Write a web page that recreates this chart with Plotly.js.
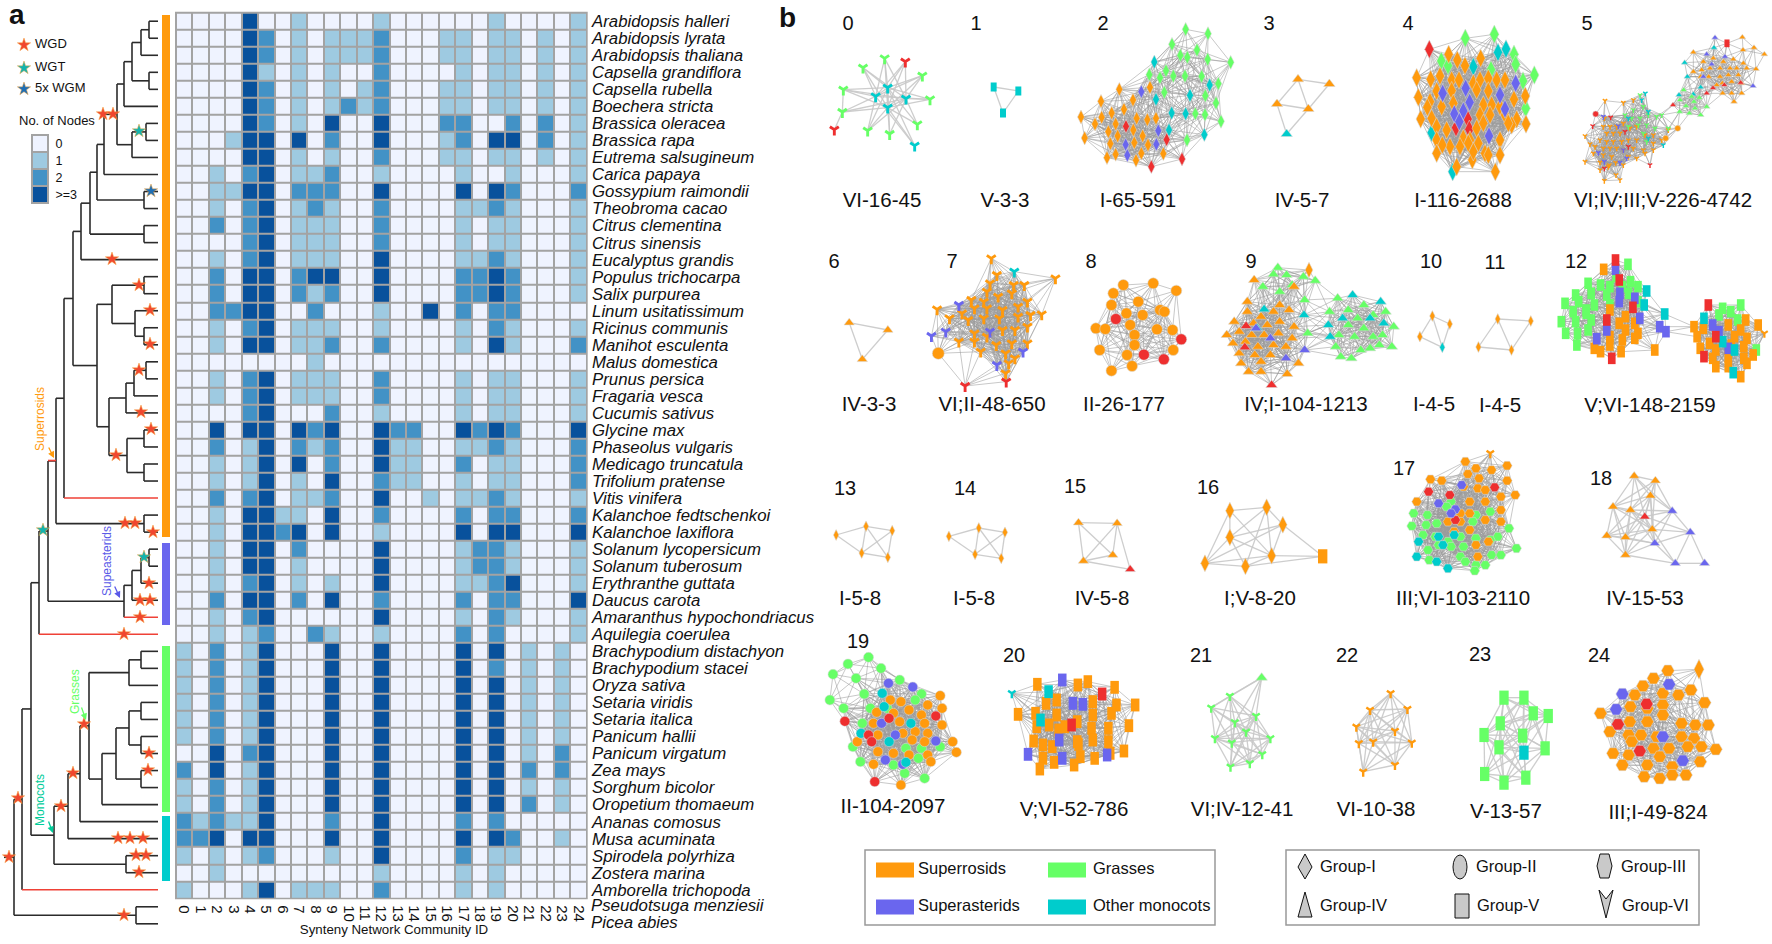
<!DOCTYPE html>
<html>
<head>
<meta charset="utf-8">
<script src="https://cdn.plot.ly/plotly-3.0.1.min.js"></script>
<style>html,body{margin:0;padding:0;background:#fff}</style>
</head>
<body>
<div id="plot" style="width:1772px;height:944px"></div>
<script>
// panel a - heatmap data
const species = ["Arabidopsis halleri","Arabidopsis lyrata","Arabidopsis thaliana","Capsella grandiflora","Capsella rubella","Boechera stricta","Brassica oleracea","Brassica rapa","Eutrema salsugineum","Carica papaya","Gossypium raimondii","Theobroma cacao","Citrus clementina","Citrus sinensis","Eucalyptus grandis","Populus trichocarpa","Salix purpurea","Linum usitatissimum","Ricinus communis","Manihot esculenta","Malus domestica","Prunus persica","Fragaria vesca","Cucumis sativus","Glycine max","Phaseolus vulgaris","Medicago truncatula","Trifolium pratense","Vitis vinifera","Kalanchoe fedtschenkoi","Kalanchoe laxiflora","Solanum lycopersicum","Solanum tuberosum","Erythranthe guttata","Daucus carota","Amaranthus hypochondriacus","Aquilegia coerulea","Brachypodium distachyon","Brachypodium stacei","Oryza sativa","Setaria viridis","Setaria italica","Panicum hallii","Panicum virgatum","Zea mays","Sorghum bicolor","Oropetium thomaeum","Ananas comosus","Musa acuminata","Spirodela polyrhiza","Zostera marina","Amborella trichopoda"];
const noCellSpecies = ["Pseudotsuga menziesii","Picea abies"];
const communities = ["0","1","2","3","4","5","6","7","8","9","10","11","12","13","14","15","16","17","18","19","20","21","22","23","24"];
// one string per species, one digit per community
const nodeRows = [
"0000300100001000000100001","0000320101112000110110101","0000320101112000110110101","0000310101002000010110101",
"0000320101012000110110101","0000320101212000110110101","0000320103003000220020201","0001330302003000120330201",
"0000330101002000110110101","0010230112001000010010001","0011330222003000030320002","0010230121002000011210001",
"0020230111002000010110001","0000230111002000010110001","0010230111003000011210001","0020330233003000022320001",
"0020330212003000022320001","0022330020001003020220000","0010230111001000010210001","0010330112002000010310002",
"0000000010000000000000000","0010230111002000010110001","0010230111002000010110001","0000230002001000010110001",
"0030330323003220032320003","0020130212003110011210002","0010130302003110020110002","0010130103002110010110002",
"0020230112003001011210001","0010331103002000020220002","0010332303001000030330003","0010330200003000012210001",
"0010330100003000012210001","0010230101003000011230001","0020330203002000020220003","0010230000003000010210001",
"0010120021001000020200001","1020130003003000030301010","1020130003003000030201010","1020130003003000030301010",
"1020130003003000030301010","1020130003003000030301010","1020130003003000030301010","0030230003003000030301020",
"2030130003003000030302020","1020130003003000030301010","1020130003003000030302010","2121130002003000020200000",
"2230330003003000030320010","1010120001003000020110000","0010000000001000010100000","1000130111002000010100000"];
const nodeCounts = nodeRows.map(r => r.split("").map(Number));
const legendLabels = ["0","1","2",">=3"];
const legendLevels = [[0],[1],[2],[3]];

// phylogeny, each inner node is [x position, child, child], a leaf is its row number
const arabTree = [141,[149,0,1],2];
const brasTree = [132,[146,6,7],8];
const crucifers = [117,[124,[132,arabTree,[149,3,4]],5],brasTree];
const malvids = [81,[90,[97,[104,crucifers,9],[144,10,11]],[144,12,13]],14];
const fabids = [97,[112,[144,15,16],[135,17,[144,18,19]]],[109,[126,[134,[146,20,21],22],23],[127,[144,24,25],[144,26,27]]]];
const superrosids = [56,[64,[73,malvids,fabids],28],[144,29,30]];
const superasterids = [124,[132,[141,[149,31,32],33],34],35];
const grasses = [89,[129,[141,37,38],39],[102,[116,[129,[141,40,41],[141,42,43]],[141,44,45]],46]];
const monocots = [54,[68,[80,grasses,47],48],[126,49,50]];
const treeRoot = [14,[22,[31,[39,[48,superrosids,superasterids],36],monocots],51],[136,52,53]];
const redRows = [28,35,36,51];

const wgdX = [24,103,113,112,139,150,150,139,141,151,116,125,135,153,149,140,150,140,124,18,9,84,73,61,118,130,143,136,146,139,148,149,124];
const wgdY = [45,114,114,259,285,310,344,370,412,429,455,523,523,532,583,600,600,617,634,798,857,724,773,806,838,838,838,855,855,872,770,753,915];
const wgtX = [24,139,43,144];
const wgtY = [68,131,530,557];
const wgmX = [24,151];
const wgmY = [89,191];

const crops = {a:[780,0,1/3,1/3], b:[1270,0,1/3,1/3], c:[800,230,.623,1/3], d:[800,450,.623,1/3], e:[800,625,.623,1/3]};
const net0 = [["VI","G",[249,203,314,175,427,227,190,269,450,298,187,336,412,373,263,392,329,402]],["VI","R",[376,185,163,389]],["VI","T",[323,263,287,289,378,296,323,323,404,437]]];
const net1 = [["V","T",[641,261,715,273,669,339]]];
const net2 = [["I","G",[1217,88,1284,101,1176,133,1201,166,1222,172,1251,150,1283,178,1352,187,1108,224,1140,233,1158,212,1180,228,1215,228,1265,229,1315,251,1153,277,1276,287,1308,309,1246,341,1275,344,1323,364,1221,420]],
 ["I","T",[1123,186,1289,255,1128,298,1230,286,1175,339,1217,341,1167,390,1273,404]],
 ["I","O",[1018,268,1110,262,963,304,1032,328,1059,300,903,351,965,352,995,339,945,372,1070,355,1102,359,1128,355,1007,372,985,395,1013,408,1060,390,1088,408,914,414,991,431,1063,428,1104,435,1007,463,981,473,1084,460,1068,481,1150,461]],
 ["I","P",[1084,275,1135,392,1037,434,1129,433,1042,466]],["I","R",[1038,379,1160,419,1206,477,1114,500]]];
const net3 = [["IV","O",[84,238,178,252,21,312,115,327]],["IV","T",[50,402]]];
const net4 = [["I","G",[586,115,673,103,732,163,514,183,534,197,737,193,663,209,793,225,759,243,767,325]],
 ["I","T",[684,157,708,147,610,200,485,398,548,515]],["I","R",[478,148,593,357,558,383,598,388]],
 ["I","O",[536,163,562,180,585,197,632,175,440,233,482,238,510,228,545,240,567,240,610,250,630,240,655,235,680,240,705,240,500,273,545,272,655,273,620,270,766,288,445,292,480,305,515,320,550,310,640,315,665,315,732,298,690,320,472,322,452,357,485,355,630,345,660,345,705,345,740,358,768,372,725,375,500,380,530,390,620,385,640,370,580,415,600,420,500,420,540,440,517,435,570,440,595,430,625,430,690,420,645,460,655,465,500,460,690,465,607,480,560,500,676,515,610,455,715,370]],
 ["I","P",[737,250,587,265,518,280,690,285,599,307,580,333,705,327,553,342,568,365,657,408]]];
const net5 = [["IV","O",[1270,157,1417,112,1419,150,1452,143,1483,163,1300,185,1330,175,1360,185,1390,178,1420,190,1295,210,1320,205,1350,205,1380,205,1400,205,1458,207,1430,205,1270,215,1292,230,1316,230,1350,230,1375,225,1405,225,1357,250,1385,245,1340,255,1415,250,1358,280,1392,305,1415,280,1385,280]],
 ["IV","P",[1335,113,1310,163,1365,170,1325,193,1449,258,1300,230]],["IV","T",[1332,143,1244,188,1252,230,1292,262,1227,285,1270,283]],["IV","R",[1329,264,1363,255,1412,248,1310,280,1209,315]],
 ["V","R",[1371,130]],
 ["IV","G",[1241,270,1265,290,1230,300,1248,318,1272,305,1288,293,1310,320,1229,335,1258,340,1292,345,1275,325]],
 ["VI","O",[1005,302,1060,308,1090,300,945,408,1003,355,975,440,970,460,960,432,1000,380,1020,380,1040,380,1060,370,1010,400,1030,400,1050,400,1080,385,1100,380,990,420,1010,425,1030,425,1055,425,1075,420,1100,420,1125,405,1150,405,1000,445,1020,445,1040,445,1060,450,1090,445,1120,450,1150,430,1000,465,1025,470,1075,470,1100,475,1125,460,945,485,990,487,1018,495,1037,488,1060,495,990,510,1015,500,1038,525,1003,542,1050,540,1195,390,1150,450,1175,420]],
 ["VI","G",[1110,285,1090,330,1120,320,1065,345,1085,355,1110,355,1135,345,1160,350,1175,345,1075,380,1105,375,1130,375,1155,385,1120,400,1130,425,1195,385]],
 ["VI","T",[1126,280,1115,300,1135,335,1075,355,1180,435,1135,415]],["VI","P",[1000,350,1045,378,985,458,1003,485,1050,488,1070,475,1060,450]],["VI","R",[1022,352,968,378,1003,505,1140,495,1075,440,1065,395]],
 ["II","O",[1223,385,1187,415]],["II","R",[977,342]]];
const net6 = [["IV","O",[79,278,141,300,100,388]]];
const net7 = [["VI","O",[307,85,316,135,305,160,410,145,343,165,360,165,300,185,220,238,388,253,240,265,275,210,295,215,318,200,340,190,260,250,280,235,300,235,325,240,350,230,365,215,270,270,295,265,320,265,350,260,370,255,255,335,280,310,300,320,325,300,345,300,365,290,280,335,315,345,340,340,365,340,290,365,330,370,345,385,335,400,330,430]],
 ["VI","T",[344,125]],["VI","P",[255,225,211,318,234,305,305,305,316,405,358,365]],["VI","R",[265,468,331,455]],["II","O",[222,370]]];
const net8 = [["II","O",[519,165,567,160,604,182,503,190,543,215,500,225,578,240,524,250,550,255,585,245,530,285,475,295,490,297,573,298,598,300,537,315,537,345,481,360,599,360,525,375,500,422,533,408]],["II","R",[507,267,612,328,552,374,584,388]]];
const net9 = [["IV","G",[767,113,760,133,781,135,808,140,827,152,743,170,790,165,770,185,810,210,815,310,863,205,850,245,905,225,940,245,880,240,895,265,920,255,953,290,880,285,905,295,865,315,890,320,920,320,935,315,860,350,885,385,900,360,915,355,930,345,950,350,868,380]],
 ["I","O",[817,120]],
 ["IV","O",[729,150,793,170,718,215,770,225,697,275,718,245,740,260,760,245,785,240,728,280,750,285,770,275,793,290,685,315,705,305,725,315,745,315,768,310,790,325,695,340,715,335,735,350,760,345,780,350,705,370,730,375,755,375,780,385,800,400,708,400,740,395,720,425,740,425,782,432]],
 ["IV","T",[745,238,809,255,734,295,887,195,932,215,848,285,851,320,871,265,915,265,937,280]],["IV","P",[732,295,755,325,810,360,780,385]],["IV","R",[716,288,714,352,757,465]]];
const net10 = [["I","O",[1015,258,1043,282,995,320]],["I","T",[1031,352]]];
const net11 = [["I","O",[1120,267,1173,273,1089,351,1142,360]]];
const net12 = [["V","G",[1329,103,1310,140,1265,160,1285,165,1333,155,1345,170,1270,190,1295,195,1245,195,1228,220,1250,215,1275,225,1300,225,1241,245,1262,240,1222,275,1245,275,1270,270,1229,310,1248,310,1265,300,1247,345,1262,250,1330,190,1345,215,1300,170,1320,170,1481,235,1494,245,1510,225,1475,255,1505,270,1535,360]],
 ["V","O",[1290,118,1300,240,1325,260,1315,280,1340,280,1325,300,1345,310,1300,320,1320,330,1340,325,1275,355,1300,345,1318,365,1372,360,1285,365,1435,290,1518,270,1538,285,1450,295,1490,285,1510,300,1440,320,1460,340,1500,320,1520,325,1445,355,1470,360,1495,345,1515,350,1465,385,1490,380,1515,385,1530,375,1470,410,1490,410,1510,440,1520,400]],
 ["V","P",[1309,118,1316,190,1315,215,1340,205,1348,265,1295,300,1279,326,1380,290,1390,305,1465,285,1475,305,1490,355]],
 ["V","T",[1359,183,1355,225,1388,252,1451,265,1481,335,1498,428,1500,360]],["V","R",[1309,90,1315,150,1337,232,1295,270,1458,225,1303,385,1470,320,1451,380]],["VI","O",[1548,310]]];
const net13 = [["I","O",[58,255,106,229,148,242,99,309,141,322]]];
const net14 = [["I","O",[239,259,287,234,329,247,281,313,323,325]]];
const net15 = [["IV","O",[447,218,509,220,502,315,455,333]],["IV","R",[530,358]]];
const net16 = [["I","O",[690,182,749,172,775,224,690,262,757,317,650,340,715,349]],["V","O",[839,319]]];
const net17 = [["III","G",[985,190,1007,195,982,228,1005,225,1022,220,1045,155,1038,170,1085,195,1108,185,1000,255,1020,260,1080,215,1120,260,1060,260,1040,275,1085,265,1108,270,1150,295,1008,300,1025,285,1045,290,1065,290,1085,345,1010,330,1060,320,1110,315,1125,315,1068,335,1100,345,1083,362,1138,235]],
 ["III","O",[1068,35,1135,47,1085,55,1110,60,1012,88,1030,92,1072,72,1090,85,1135,92,1065,110,1088,115,1100,120,1148,135,990,155,1075,155,1100,155,1125,140,1060,190,1075,190,1125,180,1040,215,1060,215,1100,210,1125,215,1075,240,1050,245,1085,285,1105,275,1088,320]],
 ["VI","O",[1108,10]],["III","R",[1009,125,1043,135,1115,112,1052,210]],["III","P",[1062,105,1025,160,1052,178,1045,190]],["III","T",[993,275,1025,260,1032,285,990,320,1022,335,1040,355,1050,255]]];
const net18 = [["IV","O",[1339,78,1373,92,1365,137,1305,170,1333,180,1295,257,1325,262,1368,238,1325,315]],["IV","R",[1356,200]],["IV","P",[1400,183,1429,247,1372,280,1405,340,1452,340]]];
const net19 = [["II","G",[110,97,77,117,130,130,53,148,90,160,160,165,48,225,103,207,70,250,195,207,185,225,100,295,113,250,85,365,97,410,190,400,168,445,200,460,225,365,140,250,170,370,195,370,150,420]],
 ["II","O",[225,212,228,250,92,350,162,230,145,225,205,240,123,262,150,265,175,255,195,270,118,295,160,290,200,295,228,300,185,320,165,325,205,325,245,350,125,330,180,345,200,350,125,380,150,385,175,390,205,390,251,382,118,418,210,410,162,480]],
 ["II","P",[142,175,181,186,131,295,153,330,218,348,137,405,165,418]],["II","T",[132,205,135,245,178,295,98,325,143,350,170,412]],["II","R",[72,289,218,273,143,280,110,330,115,350,120,470]]];
const net20 = [["V","O",[381,178,446,180,462,170,505,187,350,268,538,240,528,302,520,378,412,225,508,240,470,230,395,235,500,265,378,265,412,270,470,270,445,290,380,305,400,300,415,315,468,310,495,310,445,350,375,348,470,345,495,350,390,360,405,365,447,358,498,385,390,400,473,400,385,432,408,412,440,420,450,395,425,305]],
 ["V","P",[421,165,438,235,454,238,416,345,366,388,421,400,493,390]],["V","T",[399,200,386,285]],["V","R",[485,207,436,300]],["VI","T",[340,205]]];
const net21 = [["VI","G",[690,213,660,248,732,273,698,292,716,320,666,340,693,353,755,340,742,388,722,415,691,425]],["IV","G",[741,158]]];
const net22 = [["VI","O",[948,205,915,255,975,252,893,305,955,318,897,355,982,353,920,350,955,420,904,440]]];
const net23 = [["V","G",[1130,218,1162,218,1177,265,1201,273,1124,295,1098,330,1160,332,1122,367,1196,370,1099,447,1165,458,1130,473]],["V","T",[1162,383]]];
const net24 = [["III","O",[1393,137,1370,160,1353,183,1410,210,1385,205,1430,195,1340,210,1333,245,1452,233,1285,265,1360,250,1385,240,1385,270,1360,290,1300,320,1332,290,1415,295,1437,300,1458,300,1330,330,1350,330,1375,335,1415,335,1435,340,1335,350,1370,370,1395,370,1425,365,1470,373,1447,365,1305,385,1330,390,1380,395,1320,420,1360,420,1400,425,1445,410,1355,455,1380,460,1422,450,1400,450]],
 ["I","O",[1443,133]],["III","P",[1395,178,1320,207,1310,253,1385,335,1417,407]],["III","R",[1359,237,1313,298,1348,378]]];

const allNets = [net0,net1,net2,net3,net4,net5,net6,net7,net8,net9,net10,net11,net12,net13,net14,net15,net16,net17,net18,net19,net20,net21,net22,net23,net24];
const netCrop = ["a","a","a","b","b","b","c","c","c","c","c","c","c","d","d","d","d","d","d","e","e","e","e","e","e"];
const netSize = [12,7,9,10,12,6,9,12,11,10,7,7,9,7,7,9,11,10,9,10,10,10,10,11,13];
// dense networks link nodes closer than netReach, sparse ones are listed in netEdges
const netReach = [0,0,46,0,48,22,0,50,50,40,0,0,36,0,0,0,0,44,52,44,50,60,70,62,50];
const lightNets = [0,1,3,6,10,11,13,14,15,16,18,21,22,23];
const netEdges = {
 0:[[0,11],[0,12],[0,14],[0,13],[1,11],[1,12],[1,14],[1,13],[2,11],[2,13],[2,14],[2,12],[3,12],[3,11],[3,14],[3,13],[3,5],[4,11],[4,12],[4,13],[4,14],[5,12],[5,13],[5,14],[5,10],[6,13],[6,14],[6,11],[7,11],[7,14],[7,12],[7,13],[8,11],[8,14],[8,13],[9,11],[9,12],[9,13],[9,14],[15,14],[15,12],[15,11],[11,12],[13,14],[11,14]],
 1:[[0,1],[1,2],[0,2]], 3:[[0,1],[0,2],[0,3],[1,3],[2,3],[2,4],[3,4]], 6:[[0,1],[1,2],[0,2]],
 10:[[0,1],[0,2],[0,3],[1,3],[2,3]], 11:[[0,1],[0,2],[0,3],[1,3],[2,3]],
 13:[[0,1],[1,2],[0,3],[1,3],[1,4],[2,3],[2,4],[3,4]], 14:[[0,1],[1,2],[0,3],[1,3],[1,4],[2,3],[2,4],[3,4]],
 15:[[0,1],[0,3],[0,2],[1,2],[1,3],[2,3],[3,4],[1,4]],
 16:[[0,1],[0,3],[0,5],[0,4],[1,2],[1,3],[1,4],[1,6],[2,3],[2,4],[2,5],[2,7],[3,5],[3,6],[3,4],[4,5],[4,6],[4,7],[5,6],[6,7]]
};
const netNumberX = [848,976,1103,1269,1408,1587,834,952,1091,1251,1431,1495,1576,845,965,1075,1208,1404,1601,858,1014,1201,1347,1480,1599];
const netNumberY = [25,25,25,25,25,25,263,263,263,263,263,264,263,490,490,488,489,470,480,643,657,657,657,656,657];
const netCaptions = ["VI-16-45","V-3-3","I-65-591","IV-5-7","I-116-2688","VI;IV;III;V-226-4742","IV-3-3","VI;II-48-650","II-26-177","IV;I-104-1213","I-4-5","I-4-5","V;VI-148-2159","I-5-8","I-5-8","IV-5-8","I;V-8-20","III;VI-103-2110","IV-15-53","II-104-2097","V;VI-52-786","VI;IV-12-41","VI-10-38","V-13-57","III;I-49-824"];
const captionX = [882,1005,1138,1302,1463,1663,869,992,1124,1306,1434,1500,1650,860,974,1102,1260,1463,1645,893,1074,1242,1376,1506,1658];
const captionY = [202,202,202,202,202,202,406,406,406,406,406,407,407,600,600,600,600,600,600,808,811,811,811,813,814];

const cladeColor = {O:"#ff9a0d", G:"#66ff66", P:"#6a66ee", T:"#00cccc", R:"#ee2f2f"};
const groupSymbol = {I:"diamond-tall", II:"circle", III:"hexagon2", IV:"triangle-up"};
const blues = ["#eff3ff","#9ecae1","#4292c6","#08519c"];
const stepScale = [[0,blues[0]],[1/6,blues[0]],[1/6,blues[1]],[.5,blues[1]],[.5,blues[2]],[5/6,blues[2]],[5/6,blues[3]],[1,blues[3]]];
const fontName = "Liberation Sans, Arial, sans-serif";

// heatmap box in page pixels
const hmLeft = 176, hmRight = 586.7, hmTop = 12.7, rowH = 17.03;
const hmBottom = hmTop + rowH * species.length;
const rowY = r => hmTop + rowH * (r + .5);

let traces = [];
traces.push({type:"heatmap", x:communities, y:species, z:nodeCounts, xgap:2, ygap:2, zmin:0, zmax:3, colorscale:stepScale, showscale:false, hoverinfo:"skip"});
traces.push({type:"heatmap", xaxis:"x3", yaxis:"y3", x:["n"], y:legendLabels, z:legendLevels, xgap:2, ygap:2, zmin:0, zmax:3, colorscale:stepScale, showscale:false, hoverinfo:"skip"});

// walk the tree and collect the branches
let blackX = [], blackY = [], redX = [], redY = [];
function walk(node) {
    if (!Array.isArray(node)) return [158, rowY(node)];
    const a = walk(node[1]), b = walk(node[2]), x = node[0];
    [a, b].forEach((c, i) => {
        const leafRed = redRows.includes(node[i + 1]);
        (leafRed ? redX : blackX).push(x, c[0], null);
        (leafRed ? redY : blackY).push(c[1], c[1], null);
    });
    blackX.push(x, x, null);
    blackY.push(a[1], b[1], null);
    return [x, (a[1] + b[1]) / 2];
}
const rootPos = walk(treeRoot);
blackX.push(4, rootPos[0]);
blackY.push(rootPos[1], rootPos[1]);
function overlay(t) { t.xaxis = "x2"; t.yaxis = "y2"; t.hoverinfo = "skip"; t.showlegend = false; traces.push(t); return t; }
overlay({type:"scatter", mode:"lines", x:blackX, y:blackY, line:{color:"#2b2b2b", width:1.6}});
overlay({type:"scatter", mode:"lines", x:redX, y:redY, line:{color:"#ef4136", width:1.6}});
overlay({type:"scatter", mode:"lines", x:[48,56], y:[460.5,460.5], line:{color:"#ef4136", width:1.6}});

function stars(x, y, col) {
    overlay({type:"scatter", mode:"markers", x:x, y:y, marker:{symbol:"star", size:10, color:col, line:{color:"#f7a33a", width:.5}}});
}
stars(wgdX, wgdY, "#f0472f");
stars(wgtX, wgtY, "#14b3ae");
stars(wgmX, wgmY, "#1f6fb5");

// marker for one group, line-ns is the only tall rectangle plotly has and y-down is closest to the notched arrow
function groupMarker(g, size, col) {
    if (g === "V") return {symbol:"line-ns", size:size * .92, line:{color:col, width:size * .85}};
    if (g === "VI") return {symbol:"y-down", size:size * .62, line:{color:col, width:size * .24}};
    return {symbol:groupSymbol[g], size:g === "I" ? size * 1.1 : size, color:col, line:{color:"rgba(215,215,215,.9)", width:.6}};
}

// networks, edges first so the nodes sit on top
let nodeTraces = [];
allNets.forEach((net, n) => {
    const crop = crops[netCrop[n]];
    let px = [], py = [];
    net.forEach(part => {
        const gx = [], gy = [];
        for (let i = 0; i < part[2].length; i += 2) {
            gx.push(crop[0] + part[2][i] * crop[2]);
            gy.push(crop[1] + part[2][i + 1] * crop[3]);
        }
        px = px.concat(gx); py = py.concat(gy);
        nodeTraces.push({type:"scatter", mode:"markers", x:gx, y:gy, marker:groupMarker(part[0], netSize[n], cladeColor[part[1]])});
    });
    let pairs = netEdges[n];
    if (!pairs) {
        pairs = [];
        for (let i = 0; i < px.length; i++) for (let j = i + 1; j < px.length; j++) {
            if (Math.hypot(px[i] - px[j], py[i] - py[j]) < netReach[n]) pairs.push([i, j]);
        }
    }
    const ex = [], ey = [];
    pairs.forEach(p => { ex.push(px[p[0]], px[p[1]], null); ey.push(py[p[0]], py[p[1]], null); });
    const light = lightNets.includes(n);
    overlay({type:"scatter", mode:"lines", x:ex, y:ey, line:{color:light ? "rgba(200,200,200,.9)" : "rgba(155,155,155,.55)", width:light ? 1.3 : 1}});
});
nodeTraces.forEach(overlay);

// text on the page
function textAt(x, y, txt, size, pos, col, style) {
    overlay({type:"scatter", mode:"text", x:x, y:y, text:txt, textposition:pos, textfont:{family:fontName, size:size, color:col || "#111", style:style || "normal"}});
}
textAt(netNumberX, netNumberY, netNumberX.map((v, i) => String(i)), 20, "middle center");
textAt(captionX, captionY, netCaptions, 20.5, "middle center");
textAt([9,779], [17,20], ["<b>a</b>","<b>b</b>"], 28, "middle right");
textAt([35,35,35,19], [45,68,89,122], ["WGD","WGT","5x WGM","No. of Nodes"], 13, "middle right");
textAt([591,591], [rowY(52),rowY(53)], noCellSpecies, 16.8, "middle right", "#111", "italic");
textAt([394], [931], ["Synteny Network Community ID"], 13.3, "middle center");

// bottom legends
const cladeNames = ["Superrosids","Grasses","Superasterids","Other monocots"];
const cladeKeys = ["O","G","P","T"];
const cladeKeyX = [876,1048,876,1048], cladeKeyY = [870,870,907,907];
textAt([918,1093,918,1093], cladeKeyY, cladeNames, 16.5, "middle right");
const groupNames = ["Group-I","Group-II","Group-III","Group-IV","Group-V","Group-VI"];
const groupTextX = [1320,1476,1621,1320,1477,1622], groupTextY = [868,868,868,907,907,907];
textAt(groupTextX, groupTextY, groupNames, 16.5, "middle right");
// legend glyphs are taller than plotly's markers so they are drawn as paths
const groupGlyphs = ["M1305,854 L1312,867 L1305,879 L1298,867 Z","M1600,854 L1609,854 L1612,866 L1609,878 L1600,878 L1597,866 Z","M1305,892 L1312,917 L1298,917 Z","M1599,890 L1606,899 L1613,890 L1606,918 Z"];

// clade bars next to the tree and the legend boxes
const pageX = v => v / 1772, pageY = v => 1 - v / 944;
const barTop = [15,543,646,816], barBottom = [537,625,812,881], barKeys = ["O","P","G","T"];
const glyphStyle = {xref:"x2", yref:"y2", fillcolor:"#c9c9c9", line:{color:"#111", width:1}};
const shapes = [
    {type:"rect", xref:"paper", yref:"paper", x0:pageX(hmLeft - 1), x1:pageX(hmRight + 1), y0:pageY(hmTop - 1), y1:pageY(hmBottom + 1), fillcolor:"#a3a3a3", line:{width:0}, layer:"below"},
    {type:"rect", xref:"paper", yref:"paper", x0:pageX(31), x1:pageX(49), y0:pageY(134), y1:pageY(204), fillcolor:"#a3a3a3", line:{width:0}, layer:"below"},
    {type:"rect", xref:"x2", yref:"y2", x0:865, x1:1215, y0:850, y1:925, fillcolor:"rgba(0,0,0,0)", line:{color:"#999", width:1.5}},
    {type:"rect", xref:"x2", yref:"y2", x0:1286, x1:1699, y0:850, y1:925, fillcolor:"rgba(0,0,0,0)", line:{color:"#999", width:1.5}},
    Object.assign({type:"circle", x0:1453, x1:1467, y0:855, y1:879}, glyphStyle),
    Object.assign({type:"rect", x0:1455, x1:1469, y0:894, y1:918}, glyphStyle)
];
groupGlyphs.forEach(p => shapes.push(Object.assign({type:"path", path:p}, glyphStyle)));
barKeys.forEach((k, i) => shapes.push({type:"rect", xref:"x2", yref:"y2", x0:162, x1:170, y0:barTop[i], y1:barBottom[i], fillcolor:cladeColor[k], line:{width:0}}));
cladeKeys.forEach((k, i) => shapes.push({type:"rect", xref:"x2", yref:"y2", x0:cladeKeyX[i], x1:cladeKeyX[i] + 38, y0:cladeKeyY[i] - 7.5, y1:cladeKeyY[i] + 7.5, fillcolor:cladeColor[k], line:{width:0}}));

function cladeTag(txt, x, y, col, hx, hy, tx, ty) {
    return [
        {xref:"x2", yref:"y2", x:x, y:y, text:txt, textangle:-90, showarrow:false, font:{family:fontName, size:12, color:col}},
        {xref:"x2", yref:"y2", x:hx, y:hy, ax:tx, ay:ty, axref:"x2", ayref:"y2", text:"", showarrow:true, arrowhead:2, arrowsize:1, arrowwidth:1.3, arrowcolor:col}
    ];
}
const annotations = [].concat(
    cladeTag("Superrosids", 40, 419, "#ff9a0d", 54, 458, 48, 446),
    cladeTag("Supeasterids", 107, 561, "#5a5ae8", 120, 598, 114, 585),
    cladeTag("Grasses", 75, 692, "#66ff66", 86, 720, 81, 706),
    cladeTag("Monocots", 40, 800, "#00cc99", 53, 833, 48, 820)
);

let layout = {
    width:1772, height:944, showlegend:false,
    margin:{l:0, r:0, t:0, b:0},
    paper_bgcolor:"#fff", plot_bgcolor:"rgba(0,0,0,0)",
    font:{family:fontName, color:"#111"},
    xaxis:{domain:[hmLeft / 1772, hmRight / 1772], type:"category", dtick:1, tickangle:90, ticks:"outside", ticklen:3, tickcolor:"rgba(0,0,0,0)", showgrid:false, zeroline:false, tickfont:{size:15}},
    yaxis:{domain:[1 - hmBottom / 944, 1 - hmTop / 944], type:"category", autorange:"reversed", dtick:1, side:"right", ticks:"outside", ticklen:1, tickcolor:"rgba(0,0,0,0)", showgrid:false, zeroline:false, tickfont:{size:16.8, style:"italic"}},
    xaxis2:{domain:[0,1], range:[0,1772], visible:false, anchor:"y2", fixedrange:true},
    yaxis2:{domain:[0,1], range:[944,0], visible:false, anchor:"x2", fixedrange:true},
    xaxis3:{domain:[32 / 1772, 48 / 1772], anchor:"y3", showticklabels:false, ticks:"", showgrid:false, zeroline:false},
    yaxis3:{domain:[1 - 203 / 944, 1 - 135 / 944], anchor:"x3", type:"category", autorange:"reversed", side:"right", ticks:"outside", ticklen:4, tickcolor:"rgba(0,0,0,0)", showgrid:false, zeroline:false, tickfont:{size:12.5}},
    shapes:shapes, annotations:annotations
};

Plotly.newPlot("plot", traces, layout, {staticPlot:true, displayModeBar:false});
</script>
</body>
</html>
